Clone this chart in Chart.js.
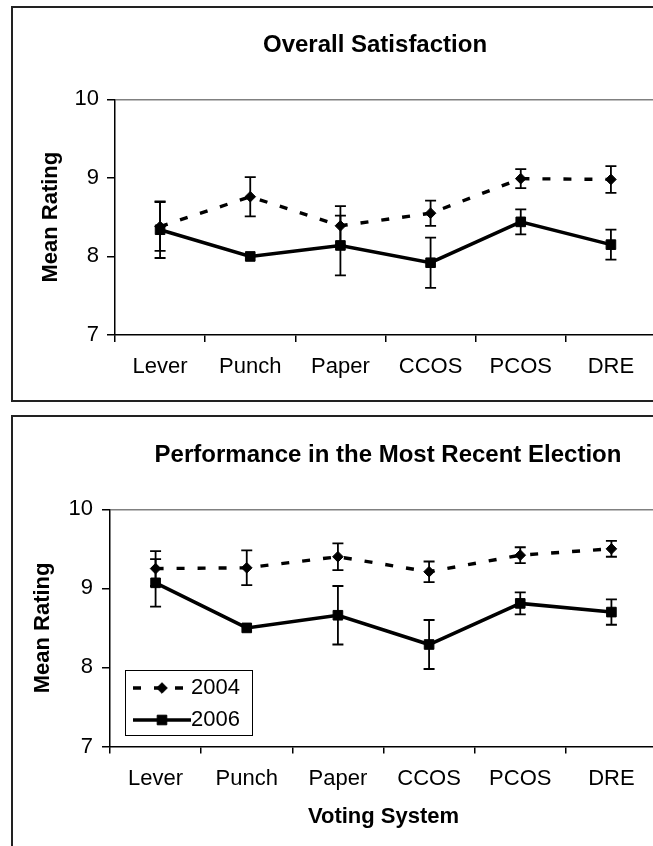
<!DOCTYPE html>
<html>
<head>
<meta charset="utf-8">
<script src="https://cdn.jsdelivr.net/npm/chart.js@4/dist/chart.umd.min.js"></script>
<style>
	html, body { margin: 0; padding: 0; background: #fff; overflow: hidden; }
	.frame { position: absolute; box-sizing: border-box; border: 2px solid #222; }
	canvas { position: absolute; }
</style>
</head>
<body>
<div class="frame" style="left:11px;top:6px;width:700px;height:396px"></div>
<div class="frame" style="left:11px;top:415px;width:700px;height:500px"></div>
<canvas id="satChart" width="660" height="391" style="left:13px;top:8px"></canvas>
<canvas id="perfChart" width="660" height="429" style="left:13px;top:417px"></canvas>
<script>
// values
var categories = ['Lever', 'Punch', 'Paper', 'CCOS', 'PCOS', 'DRE'];
var seriesNames = ['2004', '2006'];
var yMin = 7, yMax = 10, yStep = 1;

var sat2004 = [8.38, 8.76, 8.39, 8.55, 8.99, 8.98];
var sat2004Err = [0.31, 0.25, 0.25, 0.16, 0.12, 0.17];
var sat2006 = [8.34, 8.00, 8.14, 7.92, 8.44, 8.15];
var sat2006Err = [0.36, 0, 0.38, 0.32, 0.16, 0.19];

var perf2004 = [9.25, 9.26, 9.40, 9.21, 9.42, 9.50];
var perf2004Err = [0.22, 0.22, 0.17, 0.13, 0.10, 0.10];
var perf2006 = [9.07, 8.50, 8.66, 8.29, 8.81, 8.70];
var perf2006Err = [0.30, 0, 0.37, 0.31, 0.14, 0.16];

var FONT = "'Liberation Sans', Arial, Helvetica, sans-serif";
Chart.defaults.font.family = FONT;
Chart.defaults.color = '#000';

function makeDatasets(v04, e04, v06, e06) {
	return [
		{
			label: seriesNames[0],
			data: v04,
			errors: e04,
			borderColor: '#000',
			backgroundColor: '#000',
			borderWidth: 3.4,
			borderDash: [8, 13],
			pointStyle: 'rectRot',
			pointRadius: 5.3,
			pointBorderWidth: 1,
			pointBackgroundColor: '#000',
			pointBorderColor: '#000',
			tension: 0,
			fill: false
		},
		{
			label: seriesNames[1],
			data: v06,
			errors: e06,
			borderColor: '#000',
			backgroundColor: '#000',
			borderWidth: 3.5,
			pointStyle: 'rect',
			pointRadius: 6.8,
			pointBorderWidth: 1,
			pointBackgroundColor: '#000',
			pointBorderColor: '#000',
			tension: 0,
			fill: false
		}
	];
}

// error bars, drawn under the lines and markers
var errorBars = {
	id: 'errorBars',
	beforeDatasetsDraw: function(chart) {
		var ctx = chart.ctx;
		var ys = chart.scales.y;
		chart.data.datasets.forEach(function(ds, i) {
			var meta = chart.getDatasetMeta(i);
			meta.data.forEach(function(pt, j) {
				var e = ds.errors[j];
				if (!e) return;
				var top = ys.getPixelForValue(ds.data[j] + e);
				var bot = ys.getPixelForValue(ds.data[j] - e);
				ctx.save();
				ctx.strokeStyle = '#000';
				ctx.lineWidth = 1.8;
				ctx.beginPath();
				ctx.moveTo(pt.x, top); ctx.lineTo(pt.x, bot);
				ctx.moveTo(pt.x - 5.5, top); ctx.lineTo(pt.x + 5.5, top);
				ctx.moveTo(pt.x - 5.5, bot); ctx.lineTo(pt.x + 5.5, bot);
				ctx.stroke();
				ctx.restore();
			});
		});
	}
};

// move the title off the centre of the canvas
var shiftTitle = {
	id: 'shiftTitle',
	afterLayout: function(chart, args, opts) {
		if (!chart.titleBlock || !opts.dx) return;
		chart.titleBlock.left += opts.dx;
		chart.titleBlock.right += opts.dx;
	}
};

// legend inside the plot, bottom left, with a frame and line samples
var legendBox = {
	id: 'legendBox',
	afterLayout: function(chart, args, opts) {
		var lg = chart.legend;
		if (!lg || !chart.options.plugins.legend.display) return;
		var ca = chart.chartArea;
		lg.left = ca.left + opts.dx;
		lg.top = ca.bottom - opts.dy;
		lg.right = lg.left + 250;
		lg.bottom = lg.top + 150;
		lg.width = 250;
		lg.height = 150;
	},
	beforeDraw: function(chart, args, opts) {
		var lg = chart.legend;
		if (!lg || !chart.options.plugins.legend.display) return;
		var hb = lg.legendHitBoxes;
		var ctx = chart.ctx;
		var x0 = hb[0].left + opts.frame[0];
		var y0 = hb[0].top + opts.frame[1];
		var x1 = x0 + opts.frame[2];
		var y1 = hb[hb.length - 1].top + hb[hb.length - 1].height + opts.frame[3];
		ctx.save();
		ctx.fillStyle = '#fff';
		ctx.fillRect(x0, y0, x1 - x0, y1 - y0);
		ctx.strokeStyle = '#000';
		ctx.lineWidth = 1;
		ctx.strokeRect(Math.round(x0) + 0.5, Math.round(y0) + 0.5, Math.round(x1 - x0), Math.round(y1 - y0));
		ctx.restore();
	},
	afterDraw: function(chart, args, opts) {
		var lg = chart.legend;
		if (!lg || !chart.options.plugins.legend.display) return;
		var ctx = chart.ctx;
		chart.data.datasets.forEach(function(ds, i) {
			var b = lg.legendHitBoxes[i];
			var y = b.top + b.height / 2;
			var xa = b.left, xb = b.left + opts.sample;
			ctx.save();
			ctx.strokeStyle = ds.borderColor;
			ctx.lineWidth = ds.borderWidth;
			ctx.setLineDash(ds.borderDash || []);
			ctx.beginPath();
			ctx.moveTo(xa, y); ctx.lineTo(xb, y);
			ctx.stroke();
			ctx.setLineDash([]);
			ctx.fillStyle = ds.pointBackgroundColor;
			ctx.strokeStyle = ds.pointBorderColor;
			ctx.lineWidth = ds.pointBorderWidth;
			Chart.helpers.drawPoint(ctx, {
				pointStyle: ds.pointStyle,
				radius: ds.pointRadius,
				rotation: 0,
				borderWidth: ds.pointBorderWidth
			}, (xa + xb) / 2, y);
			ctx.restore();
		});
	}
};

function makeOptions(o) {
	return {
		responsive: false,
		animation: false,
		events: [],
		layout: { padding: { left: 0, right: o.padRight, top: 0, bottom: 0 } },
		plugins: {
			title: {
				display: true,
				text: o.title,
				color: '#000',
				font: { size: 24, weight: 'bold' },
				padding: { top: o.titleTop, bottom: o.titleBottom }
			},
			legend: {
				display: o.legend,
				position: 'chartArea',
				fullSize: false,
				align: 'start',
				labels: {
					boxWidth: 47,
					padding: 10,
					color: '#000',
					font: { size: 22 },
					generateLabels: function(chart) {
						var items = Chart.defaults.plugins.legend.labels.generateLabels(chart);
						items.forEach(function(it) {
							it.fillStyle = 'rgba(0,0,0,0)';
							it.strokeStyle = 'rgba(0,0,0,0)';
							it.lineWidth = 0;
						});
						return items;
					}
				}
			},
			tooltip: { enabled: false },
			shiftTitle: { dx: o.titleShift },
			legendBox: { dx: 13, dy: 79.5, sample: 58, frame: [-8, -7, 127, 4] }
		},
		scales: {
			x: {
				offset: true,
				grid: { drawOnChartArea: false, offset: true, tickLength: 7, tickColor: '#000', lineWidth: 1.5 },
				border: { color: '#000', width: 1.5 },
				ticks: { color: '#000', font: { size: 22 }, padding: 12, maxRotation: 0, autoSkip: false },
				title: {
					display: !!o.xTitle,
					text: o.xTitle || '',
					color: '#000',
					font: { size: 22, weight: 'bold' },
					padding: { top: 0, bottom: 16 }
				},
				afterFit: function(s) { s.height = o.xHeight; }
			},
			y: {
				min: yMin,
				max: yMax,
				ticks: { stepSize: yStep, color: '#000', font: { size: 22 }, padding: o.yTickPad },
				grid: {
					color: function(c) { return c.tick && c.tick.value === yMax ? '#808080' : 'rgba(0,0,0,0)'; },
					lineWidth: 1.5,
					tickColor: '#000',
					tickLength: 8
				},
				border: { color: '#000', width: 1.5 },
				title: {
					display: true,
					text: 'Mean Rating',
					color: '#000',
					font: { size: 22, weight: 'bold' },
					padding: { top: o.yTitlePad, bottom: 0 }
				},
				afterFit: function(s) { s.width = o.yWidth; }
			}
		}
	};
}

new Chart(document.getElementById('satChart'), {
	type: 'line',
	data: { labels: categories, datasets: makeDatasets(sat2004, sat2004Err, sat2006, sat2006Err) },
	options: makeOptions({
		title: 'Overall Satisfaction',
		titleTop: 22.6, titleBottom: 39.9, titleShift: 40.5,
		padRight: 17, yWidth: 102, yTickPad: 8, yTitlePad: 24.3,
		xHeight: 64, xTitle: null, legend: false
	}),
	plugins: [errorBars, shiftTitle, legendBox]
});

new Chart(document.getElementById('perfChart'), {
	type: 'line',
	data: { labels: categories, datasets: makeDatasets(perf2004, perf2004Err, perf2006, perf2006Err) },
	options: makeOptions({
		title: 'Performance in the Most Recent Election',
		titleTop: 23.6, titleBottom: 39.9, titleShift: 53,
		padRight: 16, yWidth: 97, yTickPad: 9, yTitlePad: 16.3,
		xHeight: 99.5, xTitle: 'Voting System', legend: true
	}),
	plugins: [errorBars, shiftTitle, legendBox]
});
</script>
</body>
</html>
